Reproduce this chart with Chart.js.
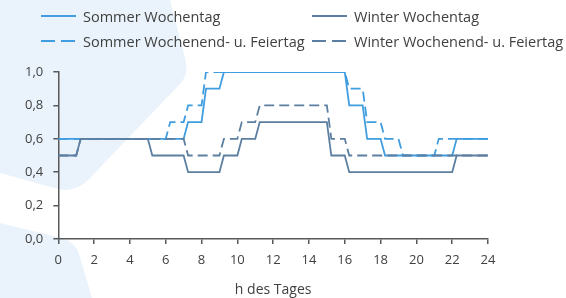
<!DOCTYPE html>
<html>
<head>
<meta charset="utf-8">
<script src="https://cdn.jsdelivr.net/npm/chart.js@4.4.1/dist/chart.umd.min.js"></script>
<style>
  html, body { margin: 0; padding: 0; background: #fff; }
  #wrap { position: relative; width: 566px; height: 298px; overflow: hidden; font-family: "Open Sans", sans-serif; color: #404040; }
  #bg, #chart, #legend { position: absolute; left: 0; top: 0; }
  .item { position: absolute; height: 20px; display: flex; align-items: center; font-size: 14.5px; white-space: nowrap; }
  .item svg { margin-right: 7px; }
</style>
</head>
<body>
<div id="wrap">
  <svg id="bg" width="566" height="298">
    <path d="M0,0 L170,0 L185,58 Q190,75 178,86 L88,180 Q75,193 58,189 L0,173 Z" fill="#eaf3fb"/>
    <path d="M0,223 L62,238 Q75,242 79,254 L92,298 L0,298 Z" fill="#eaf3fb"/>
  </svg>
  <canvas id="chart" width="566" height="298"></canvas>
  <div id="legend"></div>
</div>
<script>
// Stundenwerte (x) und Anteile (y), Übergänge je 1/4 h
const summerWeekdayX = [0, 7, 7.25, 8, 8.25, 9, 9.25, 16, 16.25, 17, 17.25, 18, 18.25, 22, 22.25, 24];
const summerWeekdayY = [0.6, 0.6, 0.7, 0.7, 0.9, 0.9, 1.0, 1.0, 0.8, 0.8, 0.6, 0.6, 0.5, 0.5, 0.6, 0.6];

const summerWeekendX = [0, 6, 6.25, 7, 7.25, 8, 8.25, 16, 16.25, 17, 17.25, 18, 18.25, 19, 19.25, 21, 21.25, 24];
const summerWeekendY = [0.6, 0.6, 0.7, 0.7, 0.8, 0.8, 1.0, 1.0, 0.9, 0.9, 0.7, 0.7, 0.6, 0.6, 0.5, 0.5, 0.6, 0.6];

const winterWeekdayX = [0, 1, 1.25, 5, 5.25, 7, 7.25, 9, 9.25, 10, 10.25, 11, 11.25, 15, 15.25, 16, 16.25, 22, 22.25, 24];
const winterWeekdayY = [0.5, 0.5, 0.6, 0.6, 0.5, 0.5, 0.4, 0.4, 0.5, 0.5, 0.6, 0.6, 0.7, 0.7, 0.5, 0.5, 0.4, 0.4, 0.5, 0.5];

const winterWeekendX = [0, 1, 1.25, 7, 7.25, 9, 9.25, 10, 10.25, 11, 11.25, 15, 15.25, 16, 16.25, 24];
const winterWeekendY = [0.5, 0.5, 0.6, 0.6, 0.5, 0.5, 0.6, 0.6, 0.7, 0.7, 0.8, 0.8, 0.6, 0.6, 0.5, 0.5];

const seriesLabels = ['Sommer Wochentag', 'Winter Wochentag', 'Sommer Wochenend- u. Feiertag', 'Winter Wochenend- u. Feiertag'];
const xTicks = [0, 2, 4, 6, 8, 10, 12, 14, 16, 18, 20, 22, 24];
const yTicks = [0, 0.2, 0.4, 0.6, 0.8, 1.0];

const summerColor = '#3f9de0';
const winterColor = '#5c7fa1';
const axisColor = '#595959';
const textColor = '#404040';
const dash = [10, 5];

function toPoints(xs, ys) {
    return xs.map((x, i) => ({ x: x, y: ys[i] }));
}

function lineSet(label, xs, ys, color, dashed) {
    return {
        label: label,
        data: toPoints(xs, ys),
        borderColor: color,
        borderWidth: 1.8,
        borderDash: dashed ? dash : [],
        pointRadius: 0,
        tension: 0,
        fill: false
    };
}

// Winter zuerst, damit die grauen Linien oben liegen
const datasets = [
    lineSet(seriesLabels[1], winterWeekdayX, winterWeekdayY, winterColor, false),
    lineSet(seriesLabels[3], winterWeekendX, winterWeekendY, winterColor, true),
    lineSet(seriesLabels[0], summerWeekdayX, summerWeekdayY, summerColor, false),
    lineSet(seriesLabels[2], summerWeekendX, summerWeekendY, summerColor, true)
];

new Chart(document.getElementById('chart'), {
    type: 'line',
    data: { datasets: datasets },
    options: {
        responsive: false,
        animation: false,
        layout: { padding: { top: 72, right: 78, left: 0, bottom: 0 } },
        plugins: { legend: { display: false }, tooltip: { enabled: false } },
        scales: {
            x: {
                type: 'linear',
                min: 0,
                max: 24,
                afterBuildTicks: s => { s.ticks = xTicks.map(v => ({ value: v })); },
                afterFit: s => { s.height = 59; },
                ticks: {
                    color: textColor,
                    font: { family: 'Open Sans', size: 13 },
                    padding: 8,
                    maxRotation: 0
                },
                grid: { drawOnChartArea: false, drawTicks: true, tickLength: 5, color: axisColor, lineWidth: 1.5 },
                border: { color: axisColor, width: 1.5 },
                title: {
                    display: true,
                    text: 'h des Tages',
                    color: textColor,
                    font: { family: 'Open Sans', size: 14 },
                    padding: { top: 0, bottom: 0 }
                }
            },
            y: {
                min: 0,
                max: 1,
                afterBuildTicks: s => { s.ticks = yTicks.map(v => ({ value: v })); },
                afterFit: s => { s.width = 58.3; },
                ticks: {
                    color: textColor,
                    font: { family: 'Open Sans', size: 13 },
                    padding: 10,
                    callback: v => v.toFixed(1).replace('.', ',')
                },
                grid: { drawOnChartArea: false, drawTicks: true, tickLength: 5, color: axisColor, lineWidth: 1.5 },
                border: { color: axisColor, width: 1.5 }
            }
        }
    }
});

// Legende (zwei Spalten, zwei Zeilen)
const legendItems = [
    { label: seriesLabels[0], color: summerColor, dashed: false, left: 41, top: 6 },
    { label: seriesLabels[1], color: winterColor, dashed: false, left: 312, top: 6 },
    { label: seriesLabels[2], color: summerColor, dashed: true, left: 41, top: 31 },
    { label: seriesLabels[3], color: winterColor, dashed: true, left: 312, top: 31 }
];
const legend = document.getElementById('legend');
legendItems.forEach(item => {
    const el = document.createElement('div');
    el.className = 'item';
    el.style.left = item.left + 'px';
    el.style.top = item.top + 'px';
    const dashAttr = item.dashed ? ' stroke-dasharray="14 6"' : '';
    el.innerHTML = '<svg width="35" height="4"><line x1="0" y1="2" x2="35" y2="2" stroke="' + item.color +
        '" stroke-width="2"' + dashAttr + '/></svg><span></span>';
    el.querySelector('span').textContent = item.label;
    legend.appendChild(el);
});
</script>
</body>
</html>
